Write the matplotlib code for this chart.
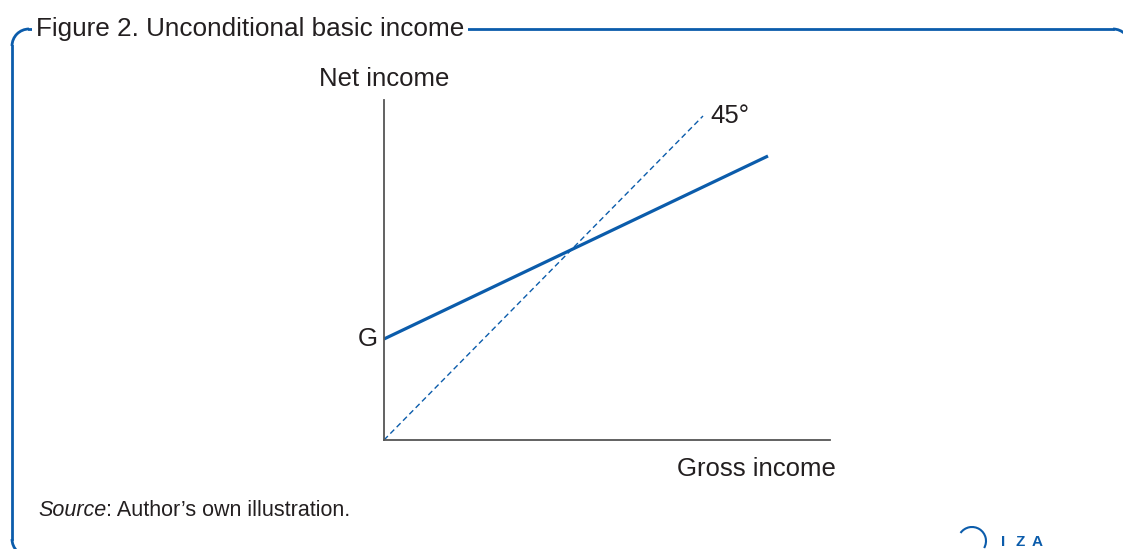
import numpy as np
import matplotlib.pyplot as plt
from matplotlib.patches import Arc

# chart values (arbitrary units)
gross = [0, 384]
net = [101, 284]          # G + (1 - t) * gross
diag_x = [0, 319]
diag_y = [0, 324]
g_level = 101

blue = '#0b5cab'
axis_col = '#555555'
txt = '#231f20'

plt.rcParams['font.family'] = ['Liberation Sans', 'DejaVu Sans']

W, H = 1123, 549
fig = plt.figure(figsize=(W / 100, H / 100), dpi=100)

# background axes in pixel units for the rounded frame
bg = fig.add_axes([0, 0, 1, 1], zorder=0)
bg.set_xlim(0, W)
bg.set_ylim(H, 0)
bg.axis('off')
r = 17
left, top, right, bottom = 12, 29, 1130, 556
bg.plot([left, left], [top + r, bottom - r], color=blue, lw=2)
bg.plot([left + r, right - r], [top, top], color=blue, lw=2)
bg.plot([right, right], [top + r, bottom - r], color=blue, lw=2)
for cx, cy, t1, t2 in [(left + r, top + r, 180, 270), (right - r, top + r, 270, 360),
                       (left + r, bottom - r, 90, 180)]:
    bg.add_patch(Arc((cx, cy), 2 * r, 2 * r, theta1=t1, theta2=t2, color=blue, lw=2))

# axes placed in pixels: origin (384, 440), width 446, height 340
ax = fig.add_axes([384 / W, 1 - 440 / H, 446 / W, 340 / H], zorder=1)
ax.set_xlim(0, 446)
ax.set_ylim(0, 340)
ax.plot(gross, net, color=blue, lw=2.3, solid_capstyle='butt')
ax.plot(diag_x, diag_y, color=blue, lw=1, ls=(0, (4, 2.5)))
for s in ['top', 'right']:
    ax.spines[s].set_visible(False)
for s in ['left', 'bottom']:
    ax.spines[s].set_color(axis_col)
    ax.spines[s].set_linewidth(1.3)
ax.set_xticks([])
ax.set_yticks([])
ax.patch.set_alpha(0)

fs = 18.5
ax.text(-6, g_level, 'G', ha='right', va='center', fontsize=fs, color=txt)
ax.text(diag_x[1] + 7, diag_y[1], '45°', ha='left', va='center', fontsize=fs, color=txt)
ax.text(0, 361, 'Net income', ha='center', va='center', fontsize=fs, color=txt)
ax.text(452, -29, 'Gross income', ha='right', va='center', fontsize=fs, color=txt)

fig.text(36 / W, 1 - 29 / H, 'Figure 2. Unconditional basic income', ha='left', va='center',
         fontsize=18.8, color=txt, zorder=2,
         bbox=dict(fc='white', ec='none', pad=3))

src = fig.text(38 / W, 1 - 511 / H, 'Source', style='italic', ha='left', va='center',
               fontsize=15.5, color=txt)
fig.canvas.draw()
bb = src.get_window_extent()
fig.text(bb.x1 / W, 1 - 511 / H, ': Author\u2019s own illustration.', ha='left', va='center',
         fontsize=15.5, color=txt)

# IZA mark
for lx, letter in zip([1003, 1020, 1037], 'IZA'):
    bg.text(lx, 549, letter, ha='center', va='bottom', fontsize=11,
            color=blue, fontweight='bold')
bg.add_patch(Arc((972, 541), 28, 28, theta1=215, theta2=30, color=blue, lw=1.5))

fig.savefig('out.png', dpi=100)
